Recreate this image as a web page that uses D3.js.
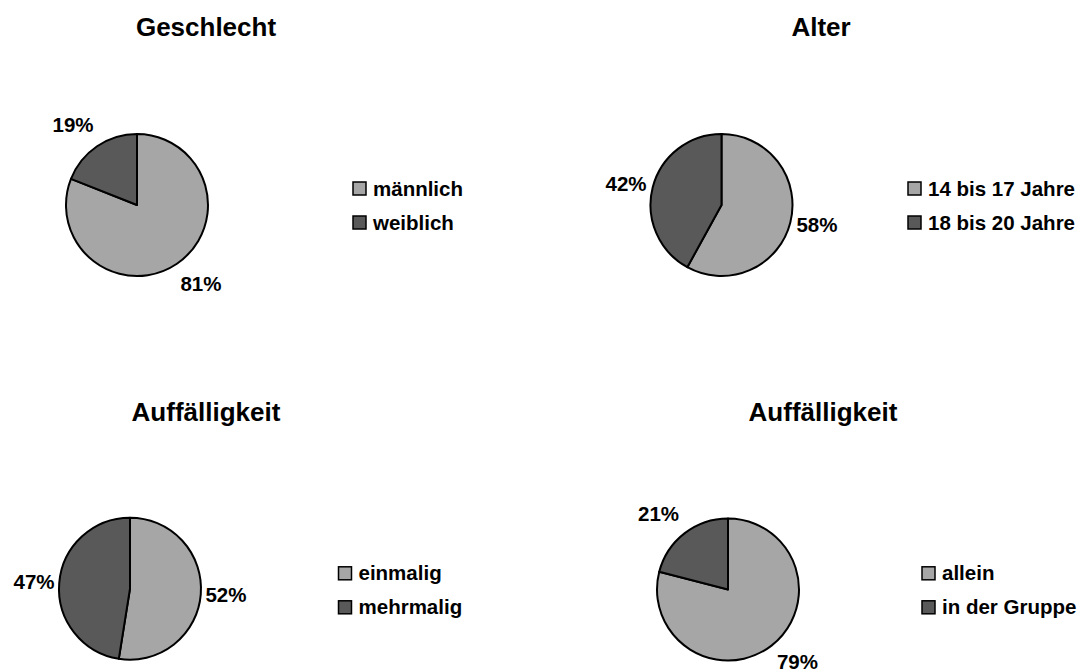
<!DOCTYPE html>
<html>
<head>
<meta charset="utf-8">
<script src="https://cdn.jsdelivr.net/npm/d3@7"></script>
<style>
  html, body { margin: 0; padding: 0; background: #ffffff; }
  svg { display: block; }
  text { font-family: "Liberation Sans", Arial, sans-serif; font-weight: bold; fill: #000; }
</style>
</head>
<body>
<svg id="chart" width="1087" height="672"></svg>
<script>
// Chart titles
const titles = ["Geschlecht", "Alter", "Auffälligkeit", "Auffälligkeit"];

// Categories per chart
const geschlechtKategorien = ["männlich", "weiblich"];
const alterKategorien = ["14 bis 17 Jahre", "18 bis 20 Jahre"];
const haeufigkeitKategorien = ["einmalig", "mehrmalig"];
const begehungKategorien = ["allein", "in der Gruppe"];

// Shares in percent
const geschlechtWerte = [81, 19];
const alterWerte = [58, 42];
const haeufigkeitWerte = [52, 47];
const begehungWerte = [79, 21];

const kategorien = [geschlechtKategorien, alterKategorien, haeufigkeitKategorien, begehungKategorien];
const werte = [geschlechtWerte, alterWerte, haeufigkeitWerte, begehungWerte];

const width = 1087, height = 672;

// Panel layout: title centre/baseline, pie centre, legend origin
const panels = [
  { tx: 206, ty: 36, cx: 137, cy: 205, lx: 353, ly: 188.5 },
  { tx: 821, ty: 36, cx: 721.5, cy: 205, lx: 908, ly: 188.5 },
  { tx: 206, ty: 421, cx: 130, cy: 588.7, lx: 338.5, ly: 573.3 },
  { tx: 823, ty: 421, cx: 728, cy: 589.5, lx: 922, ly: 573.3 }
];

const radius = 71;
const rowGap = 34;
const swatch = 13;

const color = d3.scaleOrdinal().domain([0, 1]).range(["#a6a6a6", "#595959"]);

const pie = d3.pie().sort(null).value(d => d);
const arc = d3.arc().innerRadius(0).outerRadius(radius);

// Outside-end label position: pulled slightly towards the horizontal
// and pushed a bit further out on the diagonals so the text box clears the rim
function labelPos(d) {
  const mid = (d.startAngle + d.endAngle) / 2;
  const s2 = Math.sin(2 * mid);
  const a = mid + 0.087 * s2;
  const dist = radius + 25 + 7 * s2 * s2;
  return [Math.sin(a) * dist, -Math.cos(a) * dist];
}

const svg = d3.select("#chart");

panels.forEach((p, i) => {
  const g = svg.append("g");

  g.append("text")
    .attr("x", p.tx).attr("y", p.ty)
    .attr("text-anchor", "middle")
    .style("font-size", "26px")
    .text(titles[i]);

  const pieG = g.append("g").attr("transform", `translate(${p.cx},${p.cy})`);
  const arcs = pie(werte[i]);

  pieG.selectAll("path")
    .data(arcs)
    .join("path")
    .attr("d", arc)
    .attr("fill", (d, j) => color(j))
    .attr("stroke", "#000")
    .attr("stroke-width", 2)
    .attr("stroke-linejoin", "round");

  // Labels are kept inside the drawing area
  pieG.selectAll("text")
    .data(arcs)
    .join("text")
    .attr("text-anchor", "middle")
    .style("font-size", "20.5px")
    .attr("x", d => labelPos(d)[0])
    .attr("y", d => Math.min(labelPos(d)[1] + 6.5, height - 3 - p.cy))
    .text(d => d.data + "%");

  // Legend
  const leg = g.append("g").attr("transform", `translate(${p.lx},${p.ly})`);
  const rows = leg.selectAll("g")
    .data(kategorien[i])
    .join("g")
    .attr("transform", (d, j) => `translate(0,${j * rowGap})`);

  rows.append("rect")
    .attr("x", 0).attr("y", -swatch / 2)
    .attr("width", swatch).attr("height", swatch)
    .attr("fill", (d, j) => color(j))
    .attr("stroke", "#000")
    .attr("stroke-width", 1.5);

  rows.append("text")
    .attr("x", swatch + 7)
    .attr("y", 7)
    .style("font-size", "20.5px")
    .text(d => d);
});
</script>
</body>
</html>
